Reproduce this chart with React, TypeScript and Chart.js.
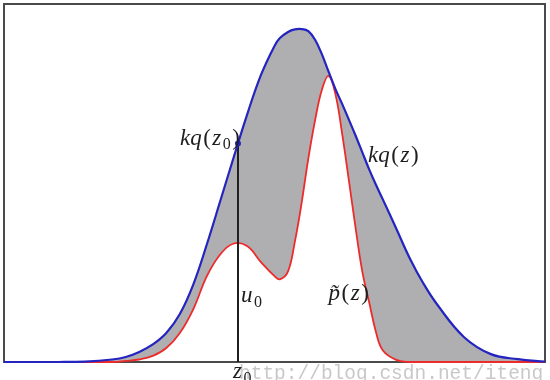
import React, { useEffect, useRef } from "react";
import { Chart, registerables } from "chart.js";

Chart.register(...registerables);

// z positions of the samples (horizontal axis 0..100)
const zGrid = [
  0, 5, 10, 15, 20, 22.5, 25, 27.5, 30, 32.5, 35, 37.5, 40, 42.5, 45, 47.5, 50, 51,
  52.5, 53.75, 55, 56.25, 57.5, 58.75, 60, 61.25, 62.5, 63.75, 65, 66.25, 67.5, 68.75, 70,
  72.5, 75, 77.5, 80, 85, 90, 95, 100,
];

// envelope kq(z) (blue)
const kqValues = [
  0, 0, 0, 0.1, 0.7, 1.4, 2.8, 4.9, 8.1, 13.4, 21.7, 32.9, 45.1, 57.4, 69.4, 80.2, 88.3, 90.5,
  92.2, 92.9, 93.0, 92.4, 90.0, 86.0, 81.1, 76.3, 72.1, 67.7, 63.2, 58.5, 53.8, 49.5, 45.5,
  37.3, 29.0, 22.0, 16.2, 7.0, 2.2, 0.8, 0.1,
];

// target density p~(z) (red)
const pValues = [
  0, 0, 0, 0, 0, 0.3, 0.7, 1.7, 3.9, 8.1, 14.8, 24.0, 30.1, 33.1, 32.3, 27.9, 24.0, 23.1,
  25.3, 33.5, 44.3, 56.8, 67.5, 76.0, 79.9, 74.9, 63.8, 50.7, 37.3, 25.1, 16.7, 8.4, 3.3,
  0.6, 0, 0, 0, 0, 0, 0, 0,
];

const z0 = 43.25;
const kqAtZ0 = 61.0;

const BLUE = "#2424c0";
const RED = "#ee2b2b";
const GREY = "#afafb1";
const INK = "#1e1e1e";
const FONT = '"Liberation Serif", "Times New Roman", serif';

type Part = { t: string; it?: boolean; sub?: boolean };

function drawMath(
  ctx: CanvasRenderingContext2D,
  parts: Part[],
  x: number,
  y: number,
  size: number,
  align: "left" | "right"
) {
  const gap = 1.5;
  const fonts = parts.map(
    (p) => `${p.it ? "italic " : ""}${p.sub ? Math.round(size * 0.7) : size}px ${FONT}`
  );
  const widths = parts.map((p, i) => {
    ctx.font = fonts[i];
    return ctx.measureText(p.t).width;
  });
  const total = widths.reduce((a, b) => a + b, 0) + gap * (parts.length - 1);
  let cx = align === "right" ? x - total : x;
  ctx.textAlign = "left";
  ctx.textBaseline = "alphabetic";
  parts.forEach((p, i) => {
    ctx.font = fonts[i];
    ctx.fillText(p.t, cx, p.sub ? y + size * 0.2 : y);
    cx += widths[i] + gap;
  });
}

const framePlugin = {
  id: "frame",
  beforeDatasetsDraw(chart: any) {
    const { ctx, chartArea } = chart;
    ctx.save();
    ctx.strokeStyle = "#4a4a4a";
    ctx.lineWidth = 2;
    ctx.strokeRect(
      chartArea.left,
      chartArea.top,
      chartArea.right - chartArea.left,
      chartArea.bottom - chartArea.top
    );
    ctx.restore();
  },
};

const labelsPlugin = {
  id: "mathLabels",
  afterDatasetsDraw(chart: any) {
    const { ctx, chartArea } = chart;
    const xs = chart.scales.x;
    const ys = chart.scales.y;
    const px0 = xs.getPixelForValue(z0);
    ctx.save();
    // watermark
    ctx.fillStyle = "rgba(190,190,190,0.85)";
    ctx.font = '19.5px "Liberation Mono", "DejaVu Sans Mono", monospace';
    ctx.textAlign = "left";
    ctx.textBaseline = "alphabetic";
    ctx.fillText("http://blog.csdn.net/iteng", px0 + 1, chartArea.bottom + 17);

    ctx.fillStyle = INK;
    drawMath(
      ctx,
      [{ t: "kq", it: true }, { t: "(" }, { t: "z", it: true }, { t: "0", sub: true }, { t: ")" }],
      px0 + 2,
      ys.getPixelForValue(kqAtZ0) + 1,
      23,
      "right"
    );
    drawMath(
      ctx,
      [{ t: "kq", it: true }, { t: "(" }, { t: "z", it: true }, { t: ")" }],
      xs.getPixelForValue(67.3),
      ys.getPixelForValue(56.0),
      23,
      "left"
    );
    drawMath(
      ctx,
      [{ t: "u", it: true }, { t: "0", sub: true }],
      px0 + 3,
      ys.getPixelForValue(16.7),
      23,
      "left"
    );
    drawMath(
      ctx,
      [{ t: "p\u0303", it: true }, { t: "(" }, { t: "z", it: true }, { t: ")" }],
      xs.getPixelForValue(60.0),
      ys.getPixelForValue(17.3),
      23,
      "left"
    );
    drawMath(
      ctx,
      [{ t: "z", it: true }, { t: "0", sub: true }],
      px0 - 5,
      chartArea.bottom + 16,
      23,
      "left"
    );
    ctx.restore();
  },
};

export default function App() {
  const ref = useRef<HTMLCanvasElement>(null);

  useEffect(() => {
    const canvas = ref.current;
    if (!canvas) return;
    const chart = new Chart(canvas, {
      type: "line",
      data: {
        datasets: [
          {
            label: "kq(z)",
            data: zGrid.map((x, i) => ({ x, y: kqValues[i] })),
            borderColor: BLUE,
            borderWidth: 2.2,
            pointRadius: 0,
            fill: 1,
            backgroundColor: GREY,
            tension: 0.4,
            order: 1,
            clip: 4,
          },
          {
            label: "p(z)",
            data: zGrid.map((x, i) => ({ x, y: pValues[i] })),
            borderColor: RED,
            borderWidth: 1.8,
            pointRadius: 0,
            fill: false,
            tension: 0.4,
            order: 3,
            clip: 4,
          },
          {
            label: "u0",
            data: [
              { x: z0, y: 0 },
              { x: z0, y: kqAtZ0 },
            ],
            borderColor: "#202020",
            borderWidth: 2,
            pointRadius: 0,
            fill: false,
            order: 2,
            clip: 4,
          },
          {
            label: "kq(z0)",
            data: [{ x: z0, y: kqAtZ0 }],
            showLine: false,
            pointRadius: 3,
            pointBackgroundColor: BLUE,
            pointBorderColor: BLUE,
            pointBorderWidth: 0,
            order: 0,
            clip: 4,
          },
        ],
      },
      options: {
        animation: false,
        responsive: false,
        devicePixelRatio: 1,
        layout: { padding: { left: 3, top: 3, right: 5, bottom: 18 } },
        scales: {
          x: { type: "linear", min: 0, max: 100, display: false },
          y: { type: "linear", min: 0, max: 100, display: false },
        },
        plugins: {
          legend: { display: false },
          tooltip: { enabled: false },
          filler: { drawTime: "beforeDatasetsDraw" },
        } as any,
        events: [],
      },
      plugins: [framePlugin, labelsPlugin],
    });
    return () => chart.destroy();
  }, []);

  return (
    <div style={{ position: "fixed", left: 0, top: 0, width: 550, height: 380, background: "#fff" }}>
      <canvas ref={ref} width={550} height={380} style={{ display: "block", width: 550, height: 380 }} />
    </div>
  );
}
